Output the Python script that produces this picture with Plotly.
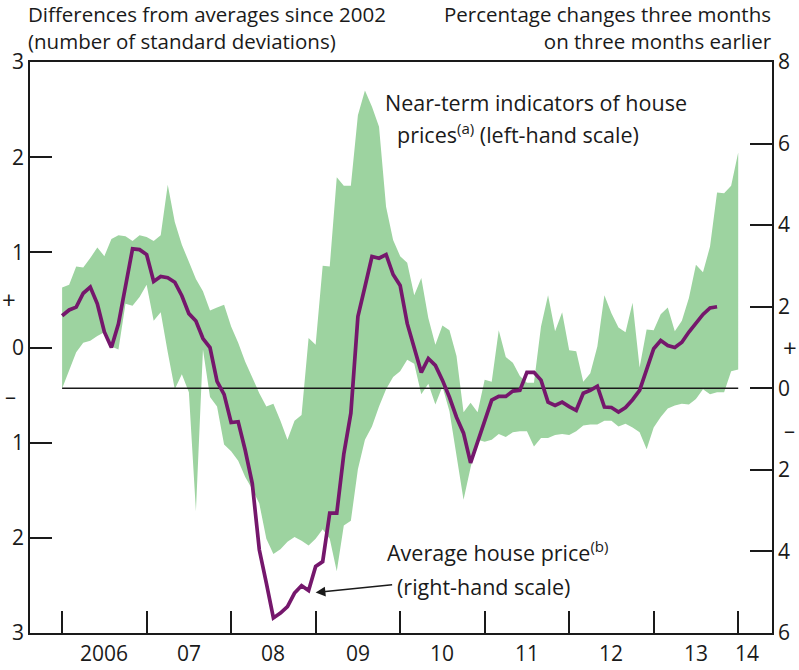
import plotly.graph_objects as go

# ---------------- data ----------------
start_year = 2006  # monthly series start in Jan 2006

# Average house price, % change 3m on 3m earlier (right-hand scale), Jan 2006 - Oct 2013
house_price = [
    1.78, 1.92, 1.99, 2.33, 2.48, 2.07, 1.38, 1.00, 1.58, 2.48, 3.42, 3.40,
    3.28, 2.62, 2.74, 2.71, 2.60, 2.27, 1.83, 1.65, 1.22, 1.00, 0.17, -0.15,
    -0.84, -0.82, -1.52, -2.33, -3.96, -4.78, -5.63, -5.51, -5.35, -5.02, -4.84, -4.96,
    -4.37, -4.25, -3.06, -3.06, -1.61, -0.61, 1.76, 2.49, 3.23, 3.19, 3.28, 2.79,
    2.52, 1.59, 1.00, 0.39, 0.73, 0.56, 0.20, -0.22, -0.71, -1.10, -1.83, -1.32,
    -0.83, -0.29, -0.20, -0.20, -0.07, -0.05, 0.39, 0.39, 0.20, -0.34, -0.42, -0.34,
    -0.45, -0.54, -0.12, -0.05, 0.05, -0.46, -0.47, -0.58, -0.47, -0.28, -0.05, 0.44,
    0.97, 1.17, 1.05, 1.00, 1.13, 1.38, 1.60, 1.81, 1.97, 2.00,
]

# Near-term indicators range (left-hand scale), Jan 2006 - Jan 2014
indicators_high = [
    0.63, 0.66, 0.85, 0.84, 0.94, 1.05, 0.96, 1.14, 1.18, 1.17, 1.12, 1.18,
    1.16, 1.12, 1.18, 1.71, 1.32, 1.08, 0.90, 0.72, 0.59, 0.39, 0.42, 0.45,
    0.22, 0.05, -0.15, -0.31, -0.48, -0.62, -0.59, -0.77, -0.97, -0.77, -0.71, 0.10,
    0.03, 0.86, 0.85, 1.79, 1.70, 1.70, 2.44, 2.70, 2.53, 2.32, 1.48, 1.13,
    0.96, 0.89, 0.55, 0.73, 0.31, 0.03, 0.23, 0.18, -0.09, -0.68, -0.58, -0.68,
    -0.34, -0.36, 0.18, -0.10, -0.16, -0.30, -0.37, -0.37, 0.22, 0.55, 0.17, 0.37,
    -0.03, -0.04, -0.36, -0.27, 0.01, 0.55, 0.36, 0.21, 0.16, 0.47, -0.21, 0.19,
    0.18, 0.35, 0.42, 0.17, 0.28, 0.52, 0.87, 0.79, 1.06, 1.63, 1.62, 1.70,
    2.05,
]
indicators_low = [
    -0.43, -0.24, -0.05, 0.05, 0.07, 0.12, 0.16, 0.01, -0.02, 0.46, 0.44, 0.53,
    0.66, 0.28, 0.37, -0.05, -0.44, -0.28, -0.47, -1.72, -0.02, -0.52, -0.62, -1.02,
    -1.09, -1.19, -1.36, -1.49, -1.64, -2.01, -2.17, -2.12, -2.04, -1.99, -2.03, -2.08,
    -2.01, -1.91, -2.01, -2.35, -1.87, -1.82, -1.28, -0.97, -0.83, -0.62, -0.44, -0.31,
    -0.25, -0.13, -0.17, -0.49, -0.38, -0.60, -0.41, -0.67, -1.12, -1.60, -1.26, -0.97,
    -0.99, -0.97, -0.91, -0.94, -0.89, -0.88, -0.88, -1.04, -0.95, -0.95, -0.92, -0.91,
    -0.92, -0.88, -0.82, -0.81, -0.81, -0.77, -0.77, -0.83, -0.80, -0.84, -0.89, -1.07,
    -0.84, -0.73, -0.64, -0.61, -0.59, -0.60, -0.54, -0.44, -0.49, -0.47, -0.47, -0.25,
    -0.23,
]

year_ticks = [2006, 2007, 2008, 2009, 2010, 2011, 2012, 2013, 2014]
year_labels = ["2006", "07", "08", "09", "10", "11", "12", "13", "14"]
year_label_pos = [2006.5, 2007.5, 2008.5, 2009.5, 2010.5, 2011.5, 2012.5, 2013.5, 2014.1]

left_ticks = [3, 2, 1, 0, -1, -2, -3]
left_labels = ["3", "2", "1", "0", "1", "2", "3"]
right_ticks = [8, 6, 4, 2, 0, -2, -4, -6]
right_labels = ["8", "6", "4", "2", "0", "2", "4", "6"]

# ---------------- build ----------------
x_hp = [start_year + i / 12 for i in range(len(house_price))]
x_ind = [start_year + i / 12 for i in range(len(indicators_high))]

GREEN = "rgb(157,211,160)"
PURPLE = "rgb(117,23,108)"
INK = "#1a1a1a"
FONT = "Open Sans"
FS_HEAD = 20.5
FS_TICK = 21
FS_LABEL = 21.5

fig = go.Figure()
fig.add_trace(go.Scatter(x=x_ind, y=indicators_low, mode="lines",
                         line=dict(width=0, color=GREEN), hoverinfo="skip", showlegend=False))
fig.add_trace(go.Scatter(x=x_ind, y=indicators_high, mode="lines", fill="tonexty",
                         fillcolor=GREEN, line=dict(width=0, color=GREEN),
                         showlegend=False))
fig.add_trace(go.Scatter(x=[year_ticks[0], year_ticks[-1]], y=[0, 0], mode="lines",
                         line=dict(color=INK, width=1.5), yaxis="y2", showlegend=False))
fig.add_trace(go.Scatter(x=x_hp, y=house_price, mode="lines",
                         line=dict(color=PURPLE, width=3.7), yaxis="y2", showlegend=False))

axis_common = dict(showgrid=False, zeroline=False, showline=True, linecolor=INK,
                   linewidth=1.5, ticks="inside", ticklen=22, tickwidth=1.5,
                   tickcolor=INK, automargin=False,
                   tickfont=dict(family=FONT, size=FS_TICK, color=INK))

fig.update_layout(
    width=799, height=670,
    margin=dict(l=30, r=27, t=62, b=37, autoexpand=False),
    paper_bgcolor="white", plot_bgcolor="white",
    font=dict(family=FONT, size=FS_HEAD, color=INK),
    xaxis=dict(range=[2005.62, 2014.40], tickvals=year_ticks, showticklabels=False,
               mirror=True, **axis_common),
    yaxis=dict(range=[-3, 3], tickvals=left_ticks, ticktext=left_labels, **axis_common),
    yaxis2=dict(range=[-6, 8], tickvals=right_ticks, ticktext=right_labels,
                overlaying="y", side="right", **axis_common),
)

ann = []
for pos, lab in zip(year_label_pos, year_labels):
    ann.append(dict(x=pos, y=0, xref="x", yref="paper", text=lab, showarrow=False,
                    yanchor="top", yshift=-4, font=dict(size=FS_TICK)))
# +/- markers
ann += [
    dict(x=0, y=0.5, xref="paper", yref="y", text="+", showarrow=False, xanchor="right",
         xshift=-12, font=dict(size=24)),
    dict(x=0, y=-0.5, xref="paper", yref="y", text="–", showarrow=False, xanchor="right",
         xshift=-12, font=dict(size=22)),
    dict(x=1, y=1, xref="paper", yref="y2", text="+", showarrow=False, xanchor="left",
         xshift=9, font=dict(size=24)),
    dict(x=1, y=-1, xref="paper", yref="y2", text="–", showarrow=False, xanchor="left",
         xshift=10, font=dict(size=22)),
]
# headers
head_left = ["Differences from averages since 2002", "(number of standard deviations)"]
head_right = ["Percentage changes three months", "on three months earlier"]
ann += [
    dict(x=0, y=1, xref="paper", yref="paper", xanchor="left", yanchor="middle", align="left",
         xshift=-2, yshift=35, borderpad=0, borderwidth=0, showarrow=False,
         text="<br>".join(head_left)),
    dict(x=1, y=1, xref="paper", yref="paper", xanchor="right", yanchor="middle", align="right",
         xshift=0, yshift=35, borderpad=0, borderwidth=0, showarrow=False,
         text="<br>".join(head_right)),
]
# series labels
lab_font = dict(size=FS_LABEL)
ann += [
    dict(x=2009.80, y=2.57, xref="x", yref="y", xanchor="left", showarrow=False,
         text="Near-term indicators of house", font=lab_font),
    dict(x=2009.94, y=2.25, xref="x", yref="y", xanchor="left", showarrow=False,
         text="prices<sup>(a)</sup> (left-hand scale)", font=lab_font),
    dict(x=2009.82, y=-4.0, xref="x", yref="y2", xanchor="left", showarrow=False,
         text="Average house price<sup>(b)</sup>", font=lab_font),
    dict(x=2009.94, y=-4.87, xref="x", yref="y2", xanchor="left", showarrow=False,
         text="(right-hand scale)", font=lab_font),
    dict(x=2009.0, y=-5.01, xref="x", yref="y2", ax=78, ay=-8, text="", showarrow=True,
         arrowhead=2, arrowsize=1.3, arrowwidth=1.5, arrowcolor=INK),
]
fig.update_layout(annotations=ann)

fig.write_html("out.html", config={"displayModeBar": False},
               post_script="document.body.style.margin='0';document.body.style.padding='0';")
